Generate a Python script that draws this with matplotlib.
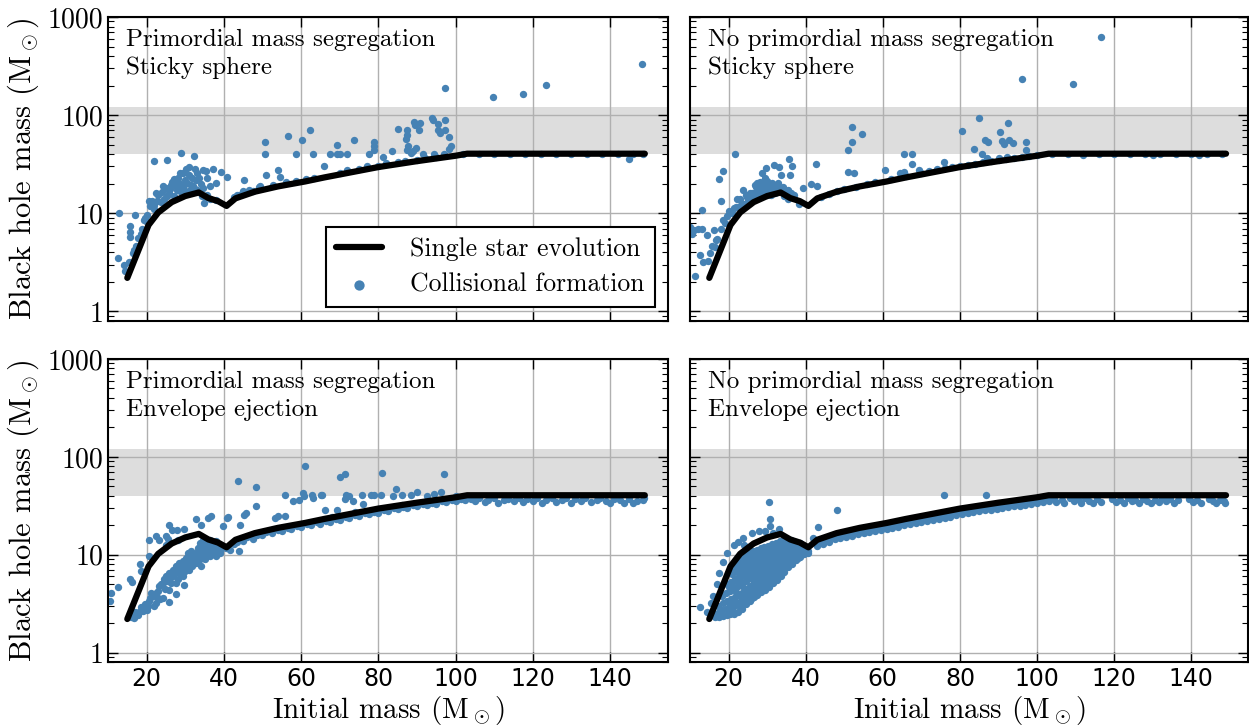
import matplotlib
matplotlib.use('Agg')
import matplotlib.pyplot as plt

DPI = 100
blue = '#4682b4'
band_color = '#dddddd'
grid_color = '#b0b0b0'

plt.rcParams['font.family'] = 'cmr10'
plt.rcParams['mathtext.fontset'] = 'cm'
plt.rcParams['axes.formatter.use_mathtext'] = True
plt.rcParams['font.size'] = 19

# single star evolution track (initial mass, BH mass)
sse_m = [15, 20.5, 23, 26.5, 30, 33.5, 36, 38.5, 40.7, 43, 48, 54, 61, 66, 80, 90, 100, 103, 149]
sse_bh = [2.2, 7.6, 10.2, 13.0, 15.0, 16.3, 14.3, 13.3, 11.9, 14.2, 16.6, 18.8, 21.1, 23.2, 29.6, 34.0, 38.6, 40.5, 40.5]

panel_titles = ['Primordial mass segregation\nSticky sphere',
                'No primordial mass segregation\nSticky sphere',
                'Primordial mass segregation\nEnvelope ejection',
                'No primordial mass segregation\nEnvelope ejection']

yticks = [1, 10, 100, 1000]
ytick_labels = ['1', '10', '100', '1000']
xticks = [20, 40, 60, 80, 100, 120, 140]
xtick_labels = ['20', '40', '60', '80', '100', '120', '140']
gap_lo, gap_hi = 40, 120

# collisional formation, primordial segregation, sticky sphere
tl_pts = [
    (12.8, 10.0), (12.5, 3.5), (14.2, 3.0), (14.5, 2.6), (15.8, 7.4), (15.8, 6.5), (15.7, 5.7),
    (17.1, 9.6), (17.7, 5.6), (18.8, 7.0), (16.4, 3.9), (17.2, 4.7), (15.5, 3.2), (20.0, 9.6),
    (20.0, 8.2), (19.2, 8.6), (18.5, 6.2), (16.8, 4.2), (19.6, 9.0),
    (20.7, 13.2), (22.0, 33.8), (22.4, 16.0), (22.8, 13.2), (22.0, 12.2), (24.3, 18.8), (25.3, 35.2),
    (26.3, 19.5), (25.9, 16.0), (27.2, 21.9), (28.0, 23.0), (28.9, 41.0), (28.6, 25.7), (30.2, 28.4),
    (31.0, 29.6), (32.3, 38.0), (32.5, 28.4), (31.8, 23.0), (29.7, 19.5), (30.5, 20.5), (31.4, 19.5),
    (32.7, 21.9), (33.5, 22.8), (34.7, 27.8), (35.3, 27.0), (37.2, 28.2), (39.2, 26.3), (40.7, 23.2),
    (35.7, 22.9), (36.4, 18.8), (37.9, 20.3), (34.9, 12.7), (35.6, 15.5), (35.2, 14.8), (34.3, 15.1),
    (33.0, 17.2), (31.3, 17.2), (29.6, 17.2), (28.8, 16.5), (27.9, 17.2), (27.0, 14.9), (25.3, 14.9),
    (24.4, 14.0), (23.6, 13.0), (21.9, 11.0), (26.0, 17.5), (27.5, 19.0), (28.5, 20.5), (29.0, 18.0),
    (30.0, 22.0), (31.0, 24.5), (32.0, 19.0), (33.0, 25.5), (34.0, 20.0), (30.5, 16.5), (26.5, 21.0),
    (25.0, 18.0), (23.0, 15.5), (24.0, 16.5), (29.5, 26.0), (32.5, 17.5), (34.5, 18.0), (27.0, 22.5),
    (21.0, 12.0), (21.5, 13.5), (36.5, 14.0), (38.0, 13.8),
    (45.3, 21.9), (44.9, 17.0), (43.4, 15.5), (47.5, 17.0), (49.4, 18.8), (50.9, 24.7), (50.7, 40.5),
    (50.7, 53.0), (53.9, 27.4), (54.6, 23.3), (56.5, 62.0), (58.6, 40.5), (60.3, 55.5), (62.2, 71.3),
    (63.1, 40.5), (66.0, 30.5), (63.4, 23.0), (61.3, 22.2), (58.6, 21.4), (56.0, 20.7), (52.6, 19.5),
    (49.1, 18.6), (46.5, 17.2), (42.5, 14.5), (44.0, 15.5),
    (67.4, 40.5), (69.4, 40.5), (70.0, 40.5), (69.4, 49.7), (72.0, 40.5), (73.7, 55.5), (77.6, 40.5),
    (78.9, 53.8), (78.9, 48.0), (78.9, 44.6), (81.1, 37.4), (83.6, 43.1), (85.1, 72.4), (87.3, 71.3),
    (87.3, 63.0), (87.1, 57.3), (87.7, 48.2), (87.3, 44.0), (89.2, 84.8), (90.7, 83.5), (89.5, 80.0),
    (90.6, 70.0), (89.8, 46.0), (89.0, 43.0), (88.5, 41.5), (91.6, 40.5), (93.8, 94.0), (94.2, 89.0),
    (95.4, 81.5), (95.4, 70.3), (96.0, 66.0), (97.2, 90.3), (97.2, 71.3), (98.2, 60.0), (98.7, 48.2),
    (98.3, 45.0), (94.4, 40.5), (97.0, 40.5), (70.0, 25.5), (75.0, 28.0), (80.0, 30.5), (85.0, 33.0),
    (90.0, 35.0), (95.0, 37.5), (72.0, 27.5), (77.0, 30.0), (82.0, 32.5), (87.0, 34.5), (92.0, 37.0),
    (97.0, 39.0),
    (97.2, 187.5), (109.8, 152.8), (117.4, 165.0), (123.4, 203.0), (148.2, 330.0), (145.0, 36.0),
    (102, 40.5), (106, 40.5), (110, 40.0), (114, 40.5), (118, 40.0), (122, 40.5), (126, 40.0),
    (130, 40.5), (134, 40.0), (138, 40.5), (142, 40.0), (146, 40.5), (148.5, 40.5),
]

# collisional formation, no primordial segregation, sticky sphere
tr_pts = [
    (116.5, 629), (96.0, 232), (109.4, 209), (85.0, 94), (92.4, 83.5), (80.6, 69), (90.4, 67.5),
    (86.4, 56.3), (87.2, 53), (91.0, 54.2), (92.6, 56.3), (93.8, 52), (91.3, 51.3), (97.1, 53),
    (97.1, 43.8), (83.7, 45.6), (85.8, 40.5), (87.0, 36.6), (90.0, 36.6), (92.2, 37.4), (75.9, 33.3),
    (51.9, 76), (51.9, 53), (51.1, 44.5), (54.7, 65), (50.9, 26.1), (52.4, 25.7), (42.8, 31.7),
    (41.4, 19.8), (43.0, 19.0), (39.3, 18.3), (35.8, 36), (36.4, 30.5), (36.0, 24.7), (60.6, 27.8),
    (65.6, 40.5), (67.5, 40.5), (67.5, 32), (64.4, 25.7), (65.6, 26.1), (69.3, 27.8), (21.7, 40.5),
    (18.6, 26.7), (17.4, 22.5), (18.1, 13.2), (22.2, 13.9), (23.8, 17.3), (29.7, 28.9), (31.7, 30.8),
    (33.0, 29.4), (33.6, 24.7), (28.6, 25.7), (29.4, 22.8), (29.9, 21.1), (27.0, 18.7), (27.5, 20.3),
    (28.9, 19.5), (30.8, 19.5), (32.2, 18.7), (34.1, 18.7), (35.5, 17.3), (36.9, 15.4), (38.3, 12.5),
    (34.5, 15.0), (35.5, 14.0), (24.7, 14.8), (26.1, 16.0), (25.6, 14.0), (21.4, 11.2), (18.6, 8.5),
    (16.2, 6.75), (16.7, 5.3), (15.8, 4.6), (15.3, 3.9), (14.6, 3.3), (13.0, 10.8), (11.1, 6.75),
    (12.0, 7.0), (13.1, 6.9), (10.1, 7.3), (14.4, 6.0), (10.6, 6.2), (12.5, 3.8), (13.4, 3.2),
    (11.4, 2.3),
    (25, 13.5), (26.5, 15), (27.5, 15.5), (28.5, 16), (29.5, 17), (30.5, 16.5), (31.5, 17.5),
    (32.5, 17), (33.5, 16.5), (26, 14.5), (27, 16.5), (28, 17.5), (29, 18), (30, 18.5), (31, 17),
    (32, 16), (33, 18), (34, 16), (30, 15.5), (31, 15.5), (28, 14.5), (24, 12.5), (23, 12),
    (22, 11.5), (20.5, 10), (19.5, 9.5), (20, 10.5), (19, 8.0), (18, 7.0), (17, 5.5), (16.5, 4.5),
    (21, 10), (23.5, 12.5), (25.5, 16), (26.8, 19.5), (28.2, 21.0), (29.2, 19.8), (31.2, 20.5),
    (32.8, 20.2), (24.5, 15.5), (23.0, 14.0), (34.8, 16.8), (36.2, 16.2),
    (44, 14.6), (46, 15.7), (48, 16.8), (50, 17.6), (53, 18.7), (56, 20), (58, 20.8), (62, 22.3),
    (66, 23.8), (70, 26), (74, 28), (78, 29.6), (82, 31), (86, 33), (90, 35), (94, 36.8),
    (98, 38.6), (100, 39.5), (72, 27.2), (76, 29), (80, 30.5), (84, 32), (88, 34.5), (92, 36),
    (96, 37.8),
    (104, 40.5), (108, 40.5), (112, 40.0), (116, 40.5), (120, 40.0), (124, 40.5), (128, 40.0),
    (132, 40.5), (136, 40.0), (140, 40.5), (144, 40.0), (148, 40.5), (112, 39.5), (130, 39.5),
    (142, 39.5),
]

# collisional formation, primordial segregation, envelope ejection
bl_pts = [
    (10.7, 4.05), (10.5, 3.4), (12.5, 4.67), (15.7, 5.6), (16.2, 5.3), (18.3, 8.0), (18.5, 6.75),
    (20.7, 9.6), (20.7, 14.2), (22.3, 15.4), (23.1, 14.2), (25.9, 20), (26.5, 18), (27.8, 18),
    (29.8, 18.5), (32.8, 23.2), (34.1, 20.3), (35.9, 23.7), (36.7, 25.1), (25.0, 15.4), (25.5, 14.5),
    (25.0, 12.6), (28.0, 14.2), (39.8, 19.5), (40.8, 23.7), (41.2, 24.5), (43.7, 57.3), (44.3, 20.3),
    (45.2, 25.5), (45.7, 26.7), (48.3, 48.9), (48.4, 31.8), (53.2, 23.7), (54.1, 25), (55.8, 25),
    (55.8, 41.1), (58.0, 35.2), (59.5, 36.6), (60.6, 42.8), (61.0, 81.5), (60.8, 39.6), (62.9, 41.1),
    (63.0, 38.0), (65.4, 41.1), (66.2, 28.9), (41.7, 11.1), (44.0, 11.0),
    (16.8, 2.25), (17.7, 2.43), (19.0, 2.63), (19.8, 2.96), (20.7, 3.33), (21.6, 3.74), (22.4, 4.05),
    (23.3, 4.74), (24.2, 5.13), (25.0, 6.0), (25.9, 6.5), (26.8, 7.0), (27.6, 7.6), (28.5, 8.2),
    (29.4, 8.55), (30.2, 9.25), (31.1, 9.6), (32.0, 10.0), (32.8, 10.4), (33.7, 10.8), (34.6, 11.2),
    (35.4, 11.7), (36.3, 12.2), (37.2, 12.0), (22.4, 3.2), (24.2, 3.6), (25.9, 4.4), (27.6, 5.1),
    (29.4, 6.0), (31.1, 7.0), (32.8, 8.2), (34.6, 9.25), (36.3, 9.6), (26.8, 6.0), (28.5, 6.5),
    (30.2, 7.6), (32.0, 8.2), (33.7, 9.0), (35.4, 9.6), (29.8, 4.93), (27.6, 3.95), (25.9, 3.3),
    (34.1, 7.6), (38.0, 9.6), (38.9, 10.4), (40.6, 11.7), (39.3, 12.6), (34.6, 14.2), (35.4, 13.5),
    (36.3, 14.2), (37.2, 13.5), (38.0, 13.8), (33.7, 13.2), (18.0, 2.6), (19.5, 3.1), (21.0, 3.6),
    (23.0, 4.3), (24.5, 5.6), (26.0, 5.8), (28.0, 7.2), (30.0, 8.0), (31.5, 8.8), (33.0, 9.5),
    (35.0, 10.5), (36.5, 11.0), (37.5, 11.2), (38.5, 11.5), (39.5, 12.0), (20.0, 2.7), (22.0, 3.0),
    (23.5, 3.5), (16.0, 2.3), (17.0, 2.6),
    (18.6, 2.9), (20.3, 3.0), (21.2, 4.1), (22.8, 3.7), (23.8, 5.0), (24.8, 4.5), (25.4, 5.4),
    (26.4, 5.1), (27.1, 6.5), (28.2, 5.7), (29.0, 7.4), (29.9, 6.8), (30.7, 8.6), (31.8, 7.6),
    (32.4, 9.1), (33.2, 8.6), (34.2, 10.0), (35.0, 9.1), (35.8, 11.0), (36.8, 10.4), (37.8, 10.8),
    (38.4, 12.4), (39.0, 11.0), (30.6, 10.3), (31.6, 10.9), (33.2, 11.7), (34.0, 12.4),
    (70.0, 62), (71.4, 66), (81.0, 68.5), (97.0, 66), (71.5, 41.1), (71.3, 37.4), (73.5, 35.2),
    (75.7, 40.7), (78.2, 40.7), (79.0, 40.7), (80.8, 40.7), (84.5, 46.4), (83.9, 39.5), (86.2, 41.1),
    (88.4, 41.1), (89.9, 43.5), (92.7, 40.2), (94.4, 42.1), (96.2, 43.5), (76.0, 33.3), (69.4, 28.9),
    (65.2, 41.1), (72.5, 40.0), (100, 39.5),
    (42.5, 12.8), (43.5, 13.6), (45, 13.9), (46, 15.0), (47.5, 14.6), (48.5, 15.9), (50, 15.8),
    (51, 16.9), (52.5, 16.6), (54, 17.9), (55, 17.4), (56.5, 18.8), (57.5, 18.3), (59, 19.6),
    (60, 19.0), (61.5, 20.6), (62.5, 19.9), (64, 21.4), (65, 20.8), (66.5, 22.3), (67.5, 21.6),
    (69, 23.4), (70, 22.8), (71.5, 24.5), (72.5, 23.7), (74, 25.7), (75, 24.9), (76.5, 26.6),
    (77.5, 25.8), (79, 27.6), (80, 26.9), (81.5, 28.8), (82.5, 27.9), (84, 29.9), (85, 29.0),
    (86.5, 31.0), (87.5, 30.1), (89, 32.0), (90, 31.2), (91.5, 33.1), (92.5, 32.2), (94, 34.0),
    (95, 33.1), (96.5, 35.0), (97.5, 34.2), (99, 35.8), (100, 35.0), (101.5, 36.7), (102.5, 35.8),
    (104, 37.4), (68, 24.2), (74, 27.3), (80, 29.5), (86, 32.0), (92, 34.7), (98, 37.5),
    (105, 35.5), (106, 37.8), (107.5, 34.6), (108.5, 36.6), (110, 38.2), (111, 33.9), (112.5, 36.2),
    (113.5, 37.5), (115, 35.0), (116.5, 38.0), (117.5, 34.2), (118.5, 36.8), (120, 35.6),
    (121, 38.1), (122.5, 34.0), (123.5, 36.4), (125, 37.6), (126, 34.8), (127.5, 36.0),
    (128.5, 38.2), (130, 33.8), (131, 36.7), (132.5, 35.3), (133.5, 37.9), (135, 34.5),
    (136.5, 36.3), (137.5, 38.0), (139, 35.0), (140, 33.6), (141, 37.2), (142.5, 35.8),
    (143.5, 34.1), (145, 36.9), (146, 33.7), (147, 35.4), (148.5, 36.6), (148.9, 38.0),
]

# collisional formation, no primordial segregation, envelope ejection
br_pts = [
    (12.6, 2.91), (16.9, 5.0), (23.8, 14.8), (26.1, 16.7), (27.8, 17.3), (30.6, 34.3), (30.7, 23.2),
    (30.7, 19.5), (33.0, 18.3), (24.1, 12.6), (43.1, 19.0), (48.1, 28.9), (40.5, 10.4), (41.8, 14.8),
    (75.8, 41.1), (86.8, 41.1), (22.5, 13.5), (21.5, 12.5), (19.5, 10.5), (18.5, 8.5), (17.5, 6.5),
    (14.5, 2.6), (15.5, 3.2), (16.0, 3.8), (21.0, 7.9), (29.5, 17.5), (31.5, 16.5),
    (16.5, 2.3), (16.7, 2.5), (17.4, 2.3), (17.6, 2.6), (17.3, 3.0),
    (18.5, 2.35), (18.3, 2.7), (18.6, 3.2), (18.4, 3.8),
    (19.5, 2.4), (19.3, 2.8), (19.6, 3.4), (19.4, 4.1), (19.7, 5.0),
    (20.5, 2.45), (20.3, 2.9), (20.6, 3.5), (20.4, 4.3), (20.7, 5.3), (20.5, 6.6),
    (21.5, 2.5), (21.3, 3.0), (21.6, 3.7), (21.4, 4.6), (21.7, 5.7), (21.5, 7.2),
    (22.5, 2.6), (22.3, 3.2), (22.6, 3.9), (22.4, 4.8), (22.7, 6.0), (22.5, 7.6), (22.3, 8.6),
    (23.5, 2.8), (23.3, 3.4), (23.6, 4.1), (23.4, 5.1), (23.7, 6.3), (23.5, 7.9), (23.3, 9.2),
    (24.5, 3.1), (24.3, 3.6), (24.6, 4.4), (24.4, 5.4), (24.7, 6.7), (24.5, 8.3), (24.3, 9.8),
    (25.5, 3.4), (25.3, 4.0), (25.6, 4.8), (25.4, 5.8), (25.7, 7.1), (25.5, 8.7), (25.3, 10.3),
    (26.5, 3.7), (26.3, 4.3), (26.6, 5.1), (26.4, 6.2), (26.7, 7.5), (26.5, 9.1), (26.3, 10.8),
    (27.5, 3.9), (27.3, 4.6), (27.6, 5.5), (27.4, 6.6), (27.7, 7.9), (27.5, 9.5), (27.3, 11.2),
    (28.5, 4.2), (28.3, 4.9), (28.6, 5.8), (28.4, 6.9), (28.7, 8.3), (28.5, 9.9), (28.3, 11.6),
    (29.5, 4.4), (29.3, 5.2), (29.6, 6.1), (29.4, 7.3), (29.7, 8.7), (29.5, 10.3), (29.3, 12.0),
    (30.5, 4.7), (30.3, 5.5), (30.6, 6.5), (30.4, 7.7), (30.7, 9.1), (30.5, 10.7), (30.3, 12.4),
    (31.5, 5.1), (31.3, 5.9), (31.6, 6.9), (31.4, 8.1), (31.7, 9.5), (31.5, 11.1), (31.3, 12.8),
    (32.5, 5.5), (32.3, 6.3), (32.6, 7.3), (32.4, 8.5), (32.7, 9.9), (32.5, 11.5), (32.3, 13.3),
    (33.5, 6.1), (33.3, 6.9), (33.6, 7.8), (33.4, 9.0), (33.7, 10.3), (33.5, 11.9), (33.3, 13.7),
    (34.5, 6.7), (34.3, 7.5), (34.6, 8.4), (34.4, 9.5), (34.7, 10.8), (34.5, 12.3), (34.3, 14.0),
    (35.5, 7.4), (35.3, 8.2), (35.6, 9.1), (35.4, 10.1), (35.7, 11.3), (35.5, 12.7), (35.3, 14.2),
    (36.5, 8.0), (36.3, 8.8), (36.6, 9.7), (36.4, 10.7), (36.7, 11.8), (36.5, 13.1), (36.3, 14.0),
    (37.5, 8.8), (37.3, 9.6), (37.6, 10.4), (37.4, 11.3), (37.7, 12.3), (37.5, 13.4),
    (38.5, 9.5), (38.3, 10.3), (38.6, 11.0), (38.4, 11.8), (38.7, 12.7), (38.5, 13.3),
    (39.5, 10.2), (39.3, 10.9), (39.6, 11.5), (39.4, 12.2), (40.5, 11.0), (40.3, 11.5),
    (21.0, 2.7), (21.9, 3.3), (22.0, 4.2), (22.9, 5.4), (23.9, 4.6), (24.0, 7.4), (25.0, 3.7),
    (25.0, 6.2), (25.9, 7.8), (26.0, 9.6), (26.9, 4.7), (27.0, 7.0), (27.9, 8.6), (28.0, 10.5),
    (28.9, 5.3), (29.0, 7.9), (29.9, 9.5), (30.0, 11.3), (30.9, 6.0), (31.0, 8.6), (31.9, 10.3),
    (32.0, 12.0), (32.9, 7.0), (33.0, 9.4), (33.9, 11.1), (34.0, 12.9), (34.9, 8.0), (35.0, 10.4),
    (35.9, 11.9), (36.0, 13.6), (36.9, 9.2), (37.0, 11.0), (37.9, 12.8), (38.0, 10.0), (39.0, 11.3),
    (23.0, 2.9), (24.0, 3.3), (26.0, 3.6), (28.0, 4.4), (30.0, 5.1), (32.0, 5.8),
    (20.0, 3.2), (20.0, 4.7), (21.0, 5.2), (21.0, 6.3), (22.0, 5.4), (22.0, 6.8), (23.0, 6.9),
    (23.0, 8.4), (24.0, 4.0), (24.0, 6.0), (24.0, 8.9), (25.0, 4.4), (25.0, 7.9), (25.0, 9.5),
    (26.0, 4.7), (26.0, 5.6), (26.0, 6.8), (26.0, 8.3), (27.0, 4.2), (27.0, 5.0), (27.0, 6.0),
    (27.0, 8.6), (27.0, 10.2), (28.0, 5.3), (28.0, 6.3), (28.0, 7.5), (28.0, 9.1), (29.0, 4.8),
    (29.0, 5.7), (29.0, 6.7), (29.0, 9.5), (29.0, 11.1), (30.0, 6.0), (30.0, 7.1), (30.0, 8.4),
    (30.0, 10.0), (31.0, 5.3), (31.0, 6.4), (31.0, 7.5), (31.0, 9.9), (31.0, 11.6), (32.0, 6.8),
    (32.0, 8.0), (32.0, 9.2), (32.0, 10.8), (33.0, 6.5), (33.0, 8.5), (33.0, 10.3), (33.0, 12.5),
    (34.0, 7.1), (34.0, 8.0), (34.0, 9.0), (34.0, 11.0), (35.0, 7.7), (35.0, 8.7), (35.0, 9.5),
    (35.0, 11.8), (35.0, 13.0), (36.0, 8.5), (36.0, 10.2), (36.0, 12.5), (37.0, 9.9), (37.0, 12.0),
    (38.0, 9.2), (38.0, 11.5), (39.0, 10.5), (39.0, 12.0),
    (43, 13.5), (43, 12.4), (44.5, 14.2), (44.5, 13.0), (46, 14.8), (46, 13.6), (47.5, 15.6),
    (47.5, 14.3), (49, 16.1), (49, 14.7), (50.5, 16.6), (50.5, 15.2), (52, 17.2), (52, 15.7),
    (53.5, 17.7), (53.5, 16.2), (55, 18.1), (55, 16.6), (56.5, 18.6), (56.5, 17.1), (58, 19.1),
    (58, 17.5), (59.5, 19.6), (59.5, 17.9), (61, 20.0), (61, 18.4), (62.5, 20.6), (62.5, 18.9),
    (64, 21.2), (64, 19.4), (65.5, 21.9), (65.5, 20.0), (67, 22.4), (67, 20.5), (68.5, 23.0),
    (68.5, 21.1), (70, 23.6), (70, 21.6), (71.5, 24.1), (71.5, 22.1), (73, 24.7), (73, 22.6),
    (74.5, 25.4), (74.5, 23.2), (76, 26.0), (76, 23.8), (77.5, 26.6), (77.5, 24.4), (79, 27.6),
    (79, 25.3), (80.5, 28.3), (80.5, 25.9), (82, 29.0), (82, 26.5), (83.5, 29.5), (83.5, 27.1),
    (85, 30.2), (85, 27.7), (86.5, 30.9), (86.5, 28.3), (88, 31.4), (88, 28.8), (89.5, 32.1),
    (89.5, 29.4), (91, 32.7), (91, 29.9), (92.5, 33.3), (92.5, 30.5), (94, 34.0), (94, 31.1),
    (95.5, 34.7), (95.5, 31.8), (97, 35.3), (97, 32.4), (98.5, 36.0), (98.5, 33.0), (100, 36.7),
    (100, 33.6), (101.5, 37.5), (101.5, 34.4), (103, 38.5), (103, 35.2),
    (104.5, 37.6), (105, 34.6), (106.5, 36.2), (107, 33.8), (108.5, 38.0), (109.5, 35.1),
    (110.5, 36.8), (111.5, 34.0), (112.5, 37.7), (113.5, 35.4), (114.5, 33.6), (115.5, 36.9),
    (116.5, 34.8), (119.5, 37.4), (120.5, 34.3), (121.5, 36.1), (122.5, 33.7), (123.5, 37.9),
    (124.5, 35.2), (125.5, 36.6), (126.5, 34.1), (127.5, 37.2), (128.5, 35.6), (129.5, 33.9),
    (130.5, 36.4), (131.5, 34.7), (132.5, 37.8), (133.5, 35.0), (134.5, 36.9), (135.5, 33.6),
    (136.5, 35.8), (139.5, 37.1), (140.5, 34.4), (141.5, 36.3), (142.5, 33.8), (144.5, 37.3),
    (145.5, 35.2), (146.5, 34.0), (147.5, 36.5), (148.5, 35.3), (148.8, 33.7),
]

W, H = 1249, 728
fig = plt.figure(figsize=(W / DPI, H / DPI), dpi=DPI)
ax_tl = fig.add_axes([108 / W, 1 - 321 / H, 560 / W, 304 / H])
ax_tr = fig.add_axes([690 / W, 1 - 321 / H, 558 / W, 304 / H])
ax_bl = fig.add_axes([108 / W, 1 - 662 / H, 560 / W, 303 / H])
ax_br = fig.add_axes([690 / W, 1 - 662 / H, 558 / W, 303 / H])

axes = [ax_tl, ax_tr, ax_bl, ax_br]
all_pts = [tl_pts, tr_pts, bl_pts, br_pts]

for i, (ax, pts, title) in enumerate(zip(axes, all_pts, panel_titles)):
    ax.axhspan(gap_lo, gap_hi, color=band_color, lw=0, zorder=0)
    xs = [p[0] for p in pts]
    ys = [p[1] for p in pts]
    sc = ax.scatter(xs, ys, s=28, color=blue, lw=0, zorder=2, label='Collisional formation')
    ln, = ax.plot(sse_m, sse_bh, color='k', lw=4.5, solid_capstyle='round',
                  solid_joinstyle='round', zorder=3, label='Single star evolution')
    ax.set_yscale('log')
    ax.set_ylim(0.8, 1000)
    ax.set_xlim(10, 155 if i % 2 == 0 else 154.7)
    ax.set_axisbelow(True)
    ax.grid(True, which='major', color=grid_color, lw=1)

    ax.set_yticks(yticks)
    ax.set_xticks(xticks)
    if i % 2 == 0:
        ax.set_yticklabels(ytick_labels, fontsize=20)
        ax.set_ylabel('Black hole mass (M$_\\odot$)', fontsize=22, labelpad=5)
    else:
        ax.set_yticklabels([])
    if i >= 2:
        ax.set_xticklabels(xtick_labels, fontfamily='DejaVu Sans', fontsize=17)
        ax.set_xlabel('Initial mass (M$_\\odot$)', fontsize=21, labelpad=2)
    else:
        ax.set_xticklabels([])

    ax.tick_params(which='major', direction='in', length=7, width=1, top=True, right=True)
    ax.tick_params(which='minor', direction='in', length=4, width=0.8, top=True, right=True)
    for sp in ax.spines.values():
        sp.set_linewidth(1.5)
        sp.set_color('k')

    ax.text(0.032, 0.96, title, transform=ax.transAxes, ha='left', va='top',
            linespacing=1.3, fontsize=18)

    if i == 0:
        leg = ax.legend(handles=[ln, sc], loc='lower right', bbox_to_anchor=(0.977, 0.046),
                        borderaxespad=0, fancybox=False, edgecolor='k', framealpha=1,
                        markerscale=1.4, handlelength=1.8, fontsize=18.5,
                        borderpad=0.4, labelspacing=0.45, handletextpad=1.1)
        leg.get_frame().set_linewidth(1.5)

plt.savefig('out.png', dpi=DPI)
